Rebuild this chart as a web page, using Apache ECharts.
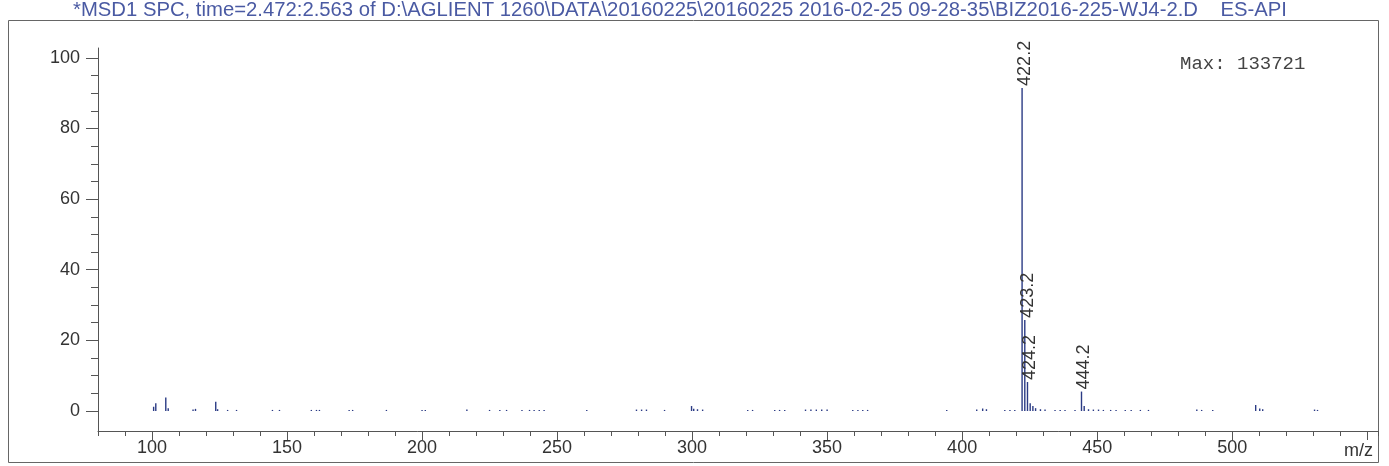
<!DOCTYPE html>
<html>
<head>
<meta charset="utf-8">
<script src="https://cdn.jsdelivr.net/npm/echarts@6/dist/echarts.min.js"></script>
<style>
html,body{margin:0;padding:0;background:#fff;}
#chart{width:1389px;height:466px;}
</style>
</head>
<body>
<div id="chart"></div>
<script>
// ---- data ----
const mz = [
  100.6, 101.4, 105.1, 106.0, 115.2, 116.1, 123.6, 124.3, 128.0, 131.3,
  144.6, 147.2, 159.0, 160.9, 162.0, 173.0, 174.3, 186.8, 200.0, 201.2,
  216.6, 225.0, 228.8, 231.3, 237.0, 239.8, 241.5, 243.4, 245.2, 261.0,
  279.4, 281.3, 283.1, 289.8, 299.8, 300.6, 302.0, 303.9, 320.6, 322.4,
  330.6, 332.4, 334.3, 342.0, 344.0, 346.0, 348.0, 350.0, 359.5, 361.4,
  363.2, 365.0, 394.3, 405.4, 407.6, 409.0, 415.8, 417.7, 419.5, 422.2,
  423.2, 424.2, 425.2, 426.2, 427.2, 429.0, 430.7, 434.4, 436.3, 438.1,
  441.8, 444.2, 445.2, 446.8, 448.6, 450.5, 452.3, 455.0, 457.0, 460.4,
  462.6, 466.0, 469.0, 486.9, 488.7, 492.8, 508.7, 510.2, 511.3, 530.5,
  531.6
];
const intensity = [
  1.2, 2.2, 3.8, 0.8, 0.4, 0.6, 2.6, 0.5, 0.3, 0.3,
  0.3, 0.3, 0.3, 0.3, 0.3, 0.3, 0.3, 0.3, 0.3, 0.3,
  0.4, 0.3, 0.3, 0.3, 0.3, 0.3, 0.3, 0.3, 0.3, 0.3,
  0.4, 0.4, 0.4, 0.3, 1.4, 0.6, 0.5, 0.4, 0.3, 0.3,
  0.3, 0.3, 0.3, 0.4, 0.4, 0.4, 0.4, 0.4, 0.3, 0.3,
  0.3, 0.3, 0.3, 0.4, 0.7, 0.5, 0.3, 0.3, 0.3, 91.5,
  25.8, 8.2, 2.2, 1.4, 0.8, 0.5, 0.4, 0.3, 0.3, 0.3,
  0.3, 5.5, 1.4, 0.5, 0.4, 0.4, 0.3, 0.3, 0.3, 0.3,
  0.3, 0.3, 0.3, 0.4, 0.3, 0.3, 1.7, 0.7, 0.5, 0.4,
  0.3
];
const labeledPeaks = [422.2, 423.2, 424.2, 444.2];
const xTickLabels = [100, 150, 200, 250, 300, 350, 400, 450, 500];
const xMajorTicks = [100, 150, 200, 250, 300, 350, 400, 450, 500, 550];
const yTickLabels = [0, 20, 40, 60, 80, 100];
const yMinorTicks = [0, 5, 10, 15, 20, 25, 30, 35, 40, 45, 50, 55, 60, 65, 70, 75, 80, 85, 90, 95, 100];
const titleText = '*MSD1 SPC, time=2.472:2.563 of D:\\AGLIENT 1260\\DATA\\20160225\\20160225 2016-02-25 09-28-35\\BIZ2016-225-WJ4-2.D    ES-API';
const maxText = 'Max: 133721';
const xName = 'm/z';

// ---- chart ----
const X_MIN = 80, X_MAX = 554, Y_MIN = -5.67, Y_MAX = 102.8;
const axisColor = '#555';
const textColor = '#333';
const font = 'Liberation Sans, Arial, sans-serif';

const seriesData = mz.map((m, i) => {
  if (labeledPeaks.indexOf(m) >= 0) {
    return { value: [m, intensity[i]], label: { show: true } };
  }
  return [m, intensity[i]];
});

const chart = echarts.init(document.getElementById('chart'), null, { renderer: 'canvas' });
chart.setOption({
  animation: false,
  backgroundColor: '#fff',
  grid: { left: 98, right: 11, top: 48, bottom: 35, containLabel: false },
  xAxis: [
    {
      type: 'value', min: X_MIN, max: X_MAX, interval: 10,
      axisLine: { show: true, onZero: false, lineStyle: { color: axisColor, width: 1 } },
      axisTick: { show: true, length: 5, lineStyle: { color: axisColor } },
      axisLabel: { show: false },
      splitLine: { show: false }
    },
    {
      type: 'value', min: X_MIN, max: X_MAX, position: 'bottom',
      axisLine: { show: false, onZero: false },
      axisTick: { show: true, length: 9, customValues: xMajorTicks, lineStyle: { color: axisColor } },
      axisLabel: { show: true, customValues: xTickLabels, color: textColor, fontSize: 18, fontFamily: font, margin: 8 },
      splitLine: { show: false }
    }
  ],
  yAxis: [
    {
      type: 'value', min: Y_MIN, max: Y_MAX,
      axisLine: { show: true, onZero: false, lineStyle: { color: axisColor, width: 1 } },
      axisTick: { show: true, length: 7, customValues: yMinorTicks, lineStyle: { color: axisColor } },
      axisLabel: { show: false },
      splitLine: { show: false }
    },
    {
      type: 'value', min: Y_MIN, max: Y_MAX, position: 'left',
      axisLine: { show: false, onZero: false },
      axisTick: { show: true, length: 12, customValues: yTickLabels, lineStyle: { color: axisColor } },
      axisLabel: { show: true, customValues: yTickLabels, color: textColor, fontSize: 18, fontFamily: font, margin: 18 },
      splitLine: { show: false }
    }
  ],
  series: [
    {
      type: 'bar',
      xAxisIndex: 0, yAxisIndex: 0,
      barWidth: 1.4,
      data: seriesData,
      itemStyle: { color: '#2b3b85' },
      label: {
        show: false,
        position: 'top',
        rotate: 90,
        align: 'left',
        verticalAlign: 'middle',
        distance: 2,
        offset: [0, 3],
        fontSize: 18,
        fontFamily: font,
        color: textColor,
        formatter: p => p.value[0].toFixed(1)
      }
    }
  ],
  graphic: [
    {
      type: 'rect', silent: true, z: -1,
      shape: { x: 8.5, y: 20.5, width: 1370, height: 442 },
      style: { fill: 'none', stroke: '#666', lineWidth: 1 }
    },
    {
      type: 'text', left: 73, top: 0,
      style: { text: titleText, fill: '#4a5aa3', font: '20.3px ' + font }
    },
    {
      type: 'text', left: 1180, top: 54,
      style: { text: maxText, fill: '#444', font: '19px "Liberation Mono", "Courier New", monospace' }
    },
    {
      type: 'text', left: 1344, top: 442,
      style: { text: xName, fill: textColor, font: '18px ' + font }
    }
  ]
});
</script>
</body>
</html>
